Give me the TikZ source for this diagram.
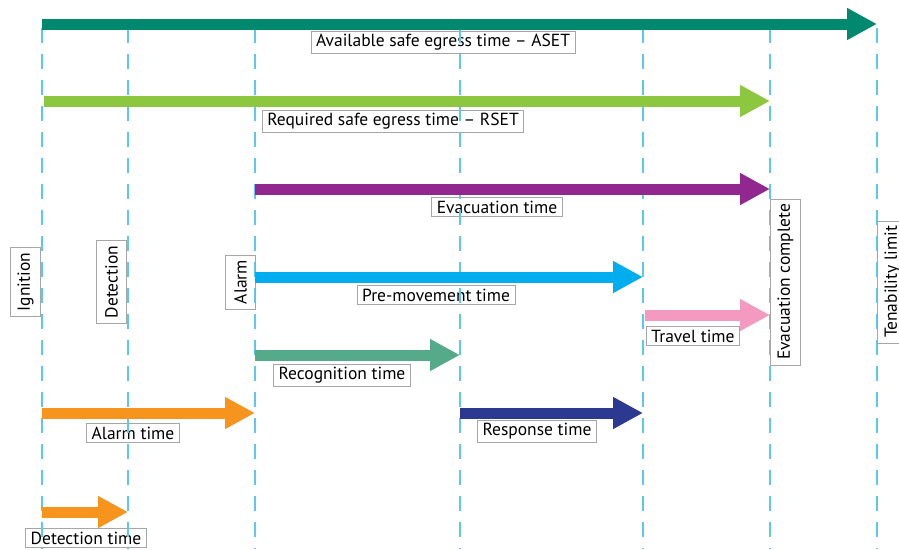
\documentclass[tikz,border=0pt]{standalone}
\usepackage{fontspec}
\setmainfont{PT Sans}
\usetikzlibrary{arrows.meta}

\definecolor{asetgreen}{HTML}{00896F}
\definecolor{rsetgreen}{HTML}{8DC63F}
\definecolor{evacpurple}{HTML}{92278F}
\definecolor{precyan}{HTML}{00AEEF}
\definecolor{travelpink}{HTML}{F49AC1}
\definecolor{recogteal}{HTML}{55AA8A}
\definecolor{respblue}{HTML}{2B3990}
\definecolor{alarmorange}{HTML}{F7941D}
\definecolor{guideblue}{HTML}{5BC8F0}
\definecolor{boxgrey}{HTML}{A6A6A6}

\begin{document}
\begin{tikzpicture}[x = 1pt, y = -1pt,
    guide/.style = {guideblue, line width=2pt, dash pattern=on 15pt off 11pt},
    phase/.style = {line width=11pt, -{Triangle[length=30pt, width=30pt]}},
    lbl/.style = {draw=boxgrey, line width=0.8pt, inner xsep=5pt, inner ysep=3pt,
                  font=\fontsize{17.5}{20}\selectfont},
    vlbl/.style = {lbl, rotate=90, minimum height=30pt}]

    \useasboundingbox (0,0) rectangle (899,549);

    % Etichette dei riquadri
    \node[lbl] (aset-l) at (443,42) {Available safe egress time -- ASET};
    \node[lbl] (rset-l) at (393,121) {Required safe egress time -- RSET};
    \node[lbl] (evac-l) at (497,207) {Evacuation time};
    \node[lbl] (pre-l) at (436,295) {Pre-movement time};
    \node[lbl] (trav-l) at (693,336) {Travel time};
    \node[lbl] (recog-l) at (342,375) {Recognition time};
    \node[lbl] (resp-l) at (537,431) {Response time};
    \node[lbl] (alarm-l) at (133,433) {Alarm time};
    \node[lbl] (det-l) at (86,538) {Detection time};

    % Eventi (linee tratteggiate)
    \foreach \n/\x in {ign/42, det/128, alm/255, rec/460, pre/643, evc/770, ten/877} {
        \coordinate (\n) at (\x,0);
        \draw[guide] (\x,28) -- (\x,549);
    }

    % Eventi verticali
    \node[vlbl, anchor=south] (ign-l) at (41,282) {Ignition};
    \node[vlbl, anchor=south] (det-v) at (127,282) {Detection};
    \node[vlbl, anchor=south] (alm-v) at (256,282) {Alarm};
    \node[vlbl, anchor=north] (evc-v) at (770,282) {Evacuation complete};
    \node[vlbl, anchor=north] (ten-v) at (877,282) {Tenability limit};

    % Frecce dei tempi
    \draw[phase, asetgreen] (ign |- 0,24) -- (ten |- 0,24);
    \draw[phase, rsetgreen] (44,101) -- (evc |- 0,101);
    \draw[phase, evacpurple] (alm |- 0,189) -- (evc |- 0,189);
    \draw[phase, precyan] (alm |- 0,277) -- (pre |- 0,277);
    \draw[phase, travelpink] (645,315) -- (evc |- 0,315);
    \draw[phase, recogteal] (alm |- 0,355) -- (rec |- 0,355);
    \draw[phase, respblue] (rec |- 0,413) -- (pre |- 0,413);
    \draw[phase, alarmorange] (ign |- 0,413) -- (alm |- 0,413);
    \draw[phase, alarmorange] (ign |- 0,512) -- (det |- 0,512);

\end{tikzpicture}
\end{document}
